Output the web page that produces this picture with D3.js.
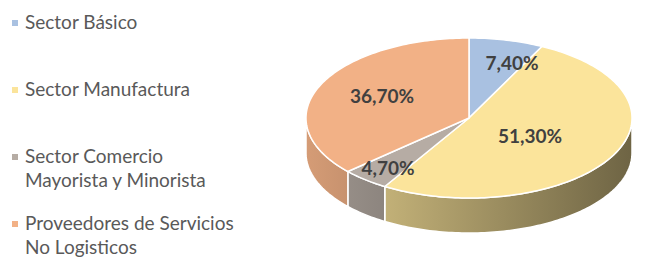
<!DOCTYPE html>
<html>
<head>
<meta charset="utf-8">
<script src="https://d3js.org/d3.v7.min.js"></script>
<style>
  body { margin: 0; background: #fff; font-family: Lato, 'Liberation Sans', Arial, sans-serif; }
</style>
</head>
<body>
<div id="chart"></div>
<script>
// data
const categories = ["Sector Básico", "Sector Manufactura", "Sector Comercio Mayorista y Minorista", "Proveedores de Servicios No Logisticos"];
const legendLines = [["Sector Básico"], ["Sector Manufactura"], ["Sector Comercio", "Mayorista y Minorista"], ["Proveedores de Servicios", "No Logisticos"]];
const values = [7.4, 51.3, 4.7, 36.7];
const labels = ["7,40%", "51,30%", "4,70%", "36,70%"];
const colors = ["#A9C1E1", "#FBE49B", "#B6ACA4", "#F2B186"];

const W = 650, H = 276;
const cx = 469, cy = 118, rx = 163, ry = 80, depth = 35;

const svg = d3.select("#chart").append("svg")
  .attr("width", W).attr("height", H);

const pie = d3.pie().sort(null).value(d => d)(values);

// angle measured clockwise from top
const px = a => cx + rx * Math.sin(a);
const py = a => cy - ry * Math.cos(a);

const defs = svg.append("defs");
colors.forEach((c, i) => {
  const g = defs.append("linearGradient").attr("id", "side" + i)
    .attr("gradientUnits", "userSpaceOnUse")
    .attr("x1", cx - rx).attr("x2", cx + rx).attr("y1", 0).attr("y2", 0);
  const base = d3.rgb(c);
  const scaled = k => d3.rgb(base.r * k, base.g * k, base.b * k).formatHex();
  g.append("stop").attr("offset", "0%").attr("stop-color", scaled(0.88));
  g.append("stop").attr("offset", "100%").attr("stop-color", scaled(0.44));
});

const line = d3.line();
function arcPts(a0, a1) {
  const n = Math.max(2, Math.ceil((a1 - a0) / 0.02));
  return d3.range(n + 1).map(k => {
    const a = a0 + (a1 - a0) * k / n;
    return [px(a), py(a)];
  });
}

// side walls (front half only)
const sides = svg.append("g");
pie.forEach((d, i) => {
  const a0 = Math.max(d.startAngle, Math.PI / 2);
  const a1 = Math.min(d.endAngle, 3 * Math.PI / 2);
  if (a1 <= a0) return;
  const top = arcPts(a0, a1);
  const bottom = top.map(p => [p[0], p[1] + depth]).reverse();
  sides.append("path")
    .attr("d", line(top.concat(bottom)) + "Z")
    .attr("fill", `url(#side${i})`)
    .attr("stroke", "#fff").attr("stroke-width", 1.5).attr("stroke-linejoin", "round");
});

// top faces
const tops = svg.append("g");
pie.forEach((d, i) => {
  const pts = [[cx, cy]].concat(arcPts(d.startAngle, d.endAngle));
  tops.append("path")
    .attr("d", line(pts) + "Z")
    .attr("fill", colors[i])
    .attr("stroke", "#fff").attr("stroke-width", 1.5).attr("stroke-linejoin", "round");
});

// data labels
const labelPos = [[512, 62], [530, 135], [388, 167], [382, 95]];
svg.append("g").selectAll("text").data(labels).join("text")
  .attr("x", (d, i) => labelPos[i][0])
  .attr("y", (d, i) => labelPos[i][1])
  .attr("text-anchor", "middle")
  .attr("dominant-baseline", "central")
  .attr("font-size", 19).attr("font-weight", "bold")
  .attr("fill", "#404040")
  .text(d => d);

// legend
const legendY = [29, 96, 163, 230];
const leg = svg.append("g");
legendLines.forEach((lines, i) => {
  leg.append("rect")
    .attr("x", 12).attr("y", legendY[i] - 9).attr("width", 6).attr("height", 6)
    .attr("fill", colors[i]);
  lines.forEach((t, j) => {
    leg.append("text")
      .attr("x", 25).attr("y", legendY[i] + j * 23.5)
      .attr("font-size", 19).attr("fill", "#595959")
      .text(t);
  });
});
</script>
</body>
</html>
